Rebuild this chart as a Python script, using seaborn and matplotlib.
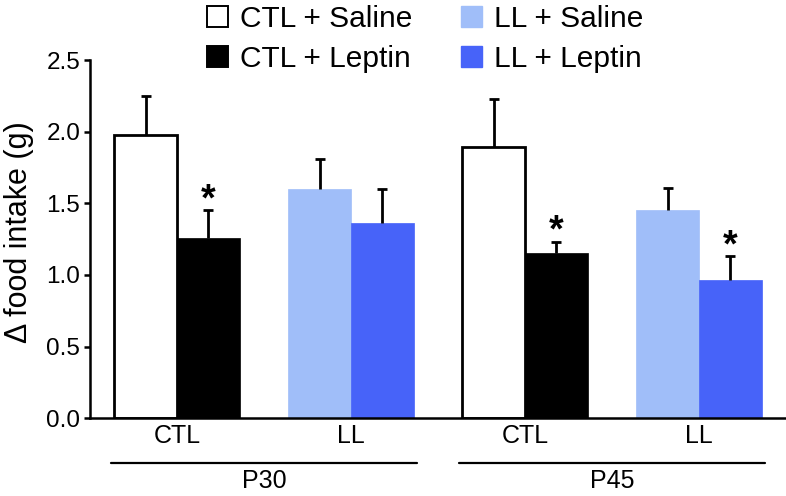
import matplotlib
matplotlib.use("Agg")
import matplotlib.pyplot as plt
from matplotlib.patches import Patch
import seaborn as sns
import pandas as pd

# groups along the x axis
ages = ["P30", "P30", "P45", "P45"]
housing = ["CTL", "LL", "CTL", "LL"]

# mean change in food intake (g) and SEM
saline_mean = [1.98, 1.60, 1.89, 1.45]
saline_sem = [0.27, 0.21, 0.34, 0.155]
leptin_mean = [1.26, 1.36, 1.15, 0.965]
leptin_sem = [0.19, 0.24, 0.08, 0.165]
leptin_sig = [True, False, True, True]

fill = {
    ("CTL", "Saline"): "white",
    ("CTL", "Leptin"): "black",
    ("LL", "Saline"): "#a0bef9",
    ("LL", "Leptin"): "#4763f9",
}

rows = []
for i, (age, h) in enumerate(zip(ages, housing)):
    rows.append(dict(group=f"{age} {h}", housing=h, treatment="Saline",
                     mean=saline_mean[i], sem=saline_sem[i], sig=False))
    rows.append(dict(group=f"{age} {h}", housing=h, treatment="Leptin",
                     mean=leptin_mean[i], sem=leptin_sem[i], sig=leptin_sig[i]))
df = pd.DataFrame(rows)

sns.set_style("ticks", {"axes.edgecolor": "black", "text.color": "black",
                        "xtick.color": "black", "ytick.color": "black",
                        "axes.labelcolor": "black"})
plt.rcParams["font.family"] = ["Liberation Sans", "DejaVu Sans"]

fig = plt.figure(figsize=(7.86, 4.96), dpi=100)
ax = fig.add_axes([0.1145, 0.157, 0.8855, 0.722])

sns.barplot(data=df, x="group", y="mean", hue="treatment",
            hue_order=["Saline", "Leptin"], width=0.72, errorbar=None,
            saturation=1, legend=False, ax=ax)

# patches sorted left to right follow the row order of df
bars = sorted([p for p in ax.patches if p.get_height() > 0], key=lambda p: p.get_x())
xs = []
for p, (_, r) in zip(bars, df.iterrows()):
    c = fill[(r["housing"], r["treatment"])]
    p.set_facecolor(c)
    if c == "white":
        p.set_edgecolor("black")
        p.set_linewidth(2)
    else:
        p.set_edgecolor(c)
        p.set_linewidth(0.5)
    xs.append(p.get_x() + p.get_width() / 2)
df["x"] = xs

eb = ax.errorbar(df["x"], df["mean"], yerr=[[0] * len(df), df["sem"]],
                 fmt="none", ecolor="black", elinewidth=2, capsize=3.8,
                 capthick=2, zorder=5)
eb[1][0].set_visible(False)

for _, r in df[df["sig"]].iterrows():
    ax.text(r["x"], r["mean"] + r["sem"] + 0.0, "*", ha="center",
            va="baseline", fontsize=27, fontweight="bold", color="black")

ax.set_ylim(0, 2.5)
ax.set_xlim(-0.5, 3.5)
ax.set_yticks([0, 0.5, 1.0, 1.5, 2.0, 2.5])
ax.set_yticklabels(["0.0", "0.5", "1.0", "1.5", "2.0", "2.5"])
ax.set_xticks(range(len(housing)))
ax.set_xticklabels(housing)
ax.tick_params(axis="y", labelsize=17.5, width=1.8, length=4, pad=3)
ax.tick_params(axis="x", labelsize=18, length=0, pad=4)
ax.set_xlabel("")
ax.set_ylabel("\u0394 food intake (g)", fontsize=22)
ax.yaxis.set_label_coords(-0.081, 0.52)
for s in ["top", "right"]:
    ax.spines[s].set_visible(False)
for s in ["left", "bottom"]:
    ax.spines[s].set_linewidth(1.8)

# age brackets under the housing labels
trans = ax.get_xaxis_transform()
for age in dict.fromkeys(ages):
    idx = [i for i, a in enumerate(ages) if a == age]
    cx = sum(idx) / len(idx)
    ax.plot([cx - 0.88, cx + 0.88], [-0.126, -0.126], color="black", lw=1.6,
            transform=trans, clip_on=False)
    ax.text(cx, -0.175, age, ha="center", va="center", fontsize=18,
            transform=trans)

handles = [
    Patch(facecolor=fill[("CTL", "Saline")], edgecolor="black", linewidth=1.4, label="CTL + Saline"),
    Patch(facecolor=fill[("CTL", "Leptin")], edgecolor="black", linewidth=1.4, label="CTL + Leptin"),
    Patch(facecolor=fill[("LL", "Saline")], edgecolor=fill[("LL", "Saline")], label="LL + Saline"),
    Patch(facecolor=fill[("LL", "Leptin")], edgecolor=fill[("LL", "Leptin")], label="LL + Leptin"),
]
fig.legend(handles=handles, ncol=2, loc="upper center", bbox_to_anchor=(0.541, 1.045),
           frameon=False, fontsize=21.5, handlelength=0.7, handleheight=0.7,
           handletextpad=0.4, columnspacing=1.65, labelspacing=0.42)

fig.savefig("out.png", dpi=100)
